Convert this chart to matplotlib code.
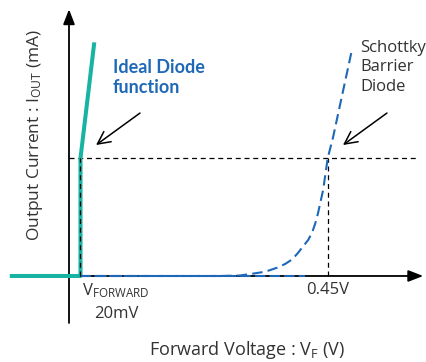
import matplotlib
matplotlib.use("Agg")
import matplotlib.pyplot as plt

plt.rcParams['font.family'] = ['Open Sans', 'DejaVu Sans']
plt.rcParams['mathtext.default'] = 'regular'

# ideal diode (teal) : voltage (V), current (mA)
ideal_v = [-0.103, 0.02, 0.02, 0.044]
ideal_i = [0.0, 0.0, 10.0, 19.8]

# schottky barrier diode (blue dashed)
sbd_v = [0.02, 0.263, 0.297, 0.320, 0.341, 0.362, 0.376, 0.388, 0.398, 0.407, 0.416,
         0.423, 0.428, 0.433, 0.437, 0.442, 0.445, 0.450, 0.459, 0.492]
sbd_i = [0.0, 0.0, 0.04, 0.2, 0.36, 0.7, 1.02, 1.4, 1.94, 2.5, 3.05,
         3.7, 4.41, 5.3, 6.19, 7.29, 8.3, 10.0, 11.7, 19.15]
sbd_flat_v = [0.02, 0.41]
sbd_flat_i = [0.0, 0.0]

ref_current = 10.0
ref_voltage = 0.45
v_forward = 0.02

teal = '#17b3a3'
blue = '#1f68b8'
grey = '#333333'

fig = plt.figure(figsize=(4.26, 3.62), dpi=100)
ax = fig.add_axes([0, 0, 1, 1])
ax.set_xlim(-0.12, 0.6209)
ax.set_ylim(-7.29, 23.39)
ax.axis('off')

# axes with arrows
ax.annotate('', xy=(0, 22.6), xytext=(0, -3.98),
            arrowprops=dict(arrowstyle='-|>,head_length=0.9,head_width=0.35', color='black', lw=1.3, shrinkA=0, shrinkB=0))
ax.annotate('', xy=(0.616, 0), xytext=(0, 0),
            arrowprops=dict(arrowstyle='-|>,head_length=0.9,head_width=0.35', color='black', lw=1.3, shrinkA=0, shrinkB=0))

# reference dashed lines
ax.plot([0, 0.607], [ref_current, ref_current], color='black', ls=(0, (4, 3)), lw=0.9)
ax.plot([ref_voltage, ref_voltage], [0, ref_current], color='black', ls=(0, (4, 3)), lw=0.9)
ax.plot([v_forward, v_forward], [0, ref_current], color='black', ls=(0, (4, 3)), lw=0.9, zorder=4)

ax.plot(ideal_v, ideal_i, color=teal, lw=2.9, solid_capstyle='butt', zorder=3)
ax.plot(sbd_flat_v, sbd_flat_i, color=blue, lw=1.5, ls=(0, (5, 2)), zorder=3)
ax.plot(sbd_v, sbd_i, color=blue, lw=1.5, ls=(0, (5, 2.5)), zorder=3)

arrow = dict(arrowstyle='->,head_length=0.9,head_width=0.45', color='black', lw=1.1, shrinkA=0, shrinkB=0)
ax.annotate('', xy=(0.047, 11.1), xytext=(0.1235, 13.81), arrowprops=arrow)
ax.annotate('', xy=(0.4765, 11.1), xytext=(0.553, 13.81), arrowprops=arrow)

ax.text(0.0765, 16.82, 'Ideal Diode\nfunction', color=blue, fontsize=13, fontweight='bold',
        family=['Lato', 'DejaVu Sans'], va='center', ha='left', linespacing=1.25)
ax.text(0.506, 17.67, 'Schottky\nBarrier\nDiode', color=grey, fontsize=12,
        va='center', ha='left', linespacing=1.3)

ax.text(0.0226, -1.25, r'V$_{FORWARD}$', color=grey, fontsize=12, va='center', ha='left')
ax.text(0.0435, -3.25, '20mV', color=grey, fontsize=12, va='center', ha='left')
ax.text(ref_voltage, -1.19, '0.45V', color=grey, fontsize=12, va='center', ha='center')

ax.text(0.309, -6.27, r'Forward Voltage : V$_F$ (V)', color=grey, fontsize=13, va='center', ha='center')
ax.text(-0.059, 11.95, r'Output Current : I$_{OUT}$ (mA)', color=grey, fontsize=12.5,
        va='center', ha='center', rotation=90)

fig.savefig('out.png', dpi=100)
